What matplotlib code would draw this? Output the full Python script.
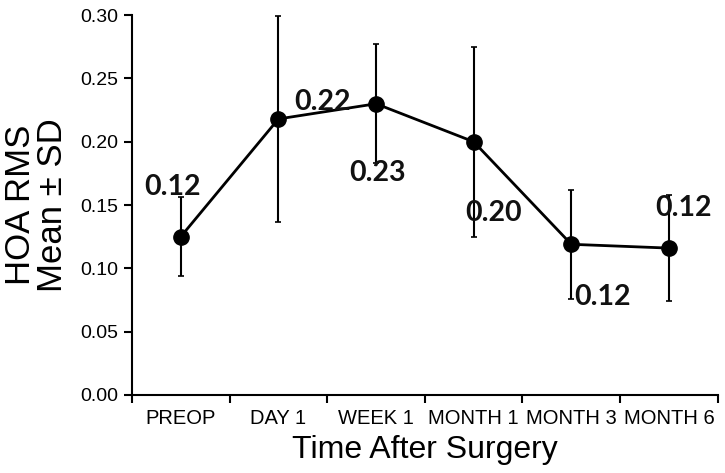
import matplotlib
matplotlib.use("Agg")
import matplotlib.pyplot as plt
import numpy as np

categories = ["PREOP", "DAY 1", "WEEK 1", "MONTH 1", "MONTH 3", "MONTH 6"]
means = [0.125, 0.218, 0.230, 0.200, 0.119, 0.116]
sds = [0.031, 0.081, 0.047, 0.075, 0.043, 0.042]
labels = ["0.12", "0.22", "0.23", "0.20", "0.12", "0.12"]
# label offsets (x in category units, y in value units)
label_dx = [-0.08, 0.45, 0.02, 0.2, 0.32, 0.15]
label_dy = [0.039, 0.013, -0.055, -0.056, -0.042, 0.032]

fig = plt.figure(figsize=(7.25, 4.73), dpi=100)
ax = fig.add_axes([0.182, 0.165, 0.808, 0.803])

x = np.arange(len(categories))
ax.errorbar(x, means, yerr=sds, fmt='o-', color='black', ecolor='black',
            elinewidth=1.5, capsize=2.5, capthick=1.2, markersize=11, linewidth=2)

for xi, m, lab, dx, dy in zip(x, means, labels, label_dx, label_dy):
    ax.text(xi + dx, m + dy, lab, ha='center', va='center', fontsize=20.5,
            fontweight='bold', family='Lato', color='#111111')

ax.set_xlim(-0.5, len(categories) - 0.5)
ax.set_ylim(0, 0.30)
ax.set_yticks(np.arange(0, 0.301, 0.05))
ax.set_yticklabels([f"{v:.2f}" for v in np.arange(0, 0.301, 0.05)],
                   family='Liberation Sans', fontsize=14)
ax.set_xticks(x)
ax.set_xticklabels(categories, family='Liberation Sans', fontsize=14.5)
ax.tick_params(axis='x', which='major', length=0, pad=10)
ax.set_xticks(np.arange(-0.5, len(categories), 1), minor=True)
ax.tick_params(axis='x', which='minor', length=6, width=1.5, direction='out')
ax.tick_params(axis='y', length=6, width=1.5, direction='out', pad=4)

for s in ['top', 'right']:
    ax.spines[s].set_visible(False)
for s in ['left', 'bottom']:
    ax.spines[s].set_linewidth(1.5)

ax.set_xlabel("Time After Surgery", family='Liberation Sans', fontsize=23, labelpad=5)
ax.set_ylabel("HOA RMS\nMean ± SD", family='Liberation Sans', fontsize=25,
              linespacing=0.95, labelpad=8)

fig.savefig("out.png", dpi=100)
